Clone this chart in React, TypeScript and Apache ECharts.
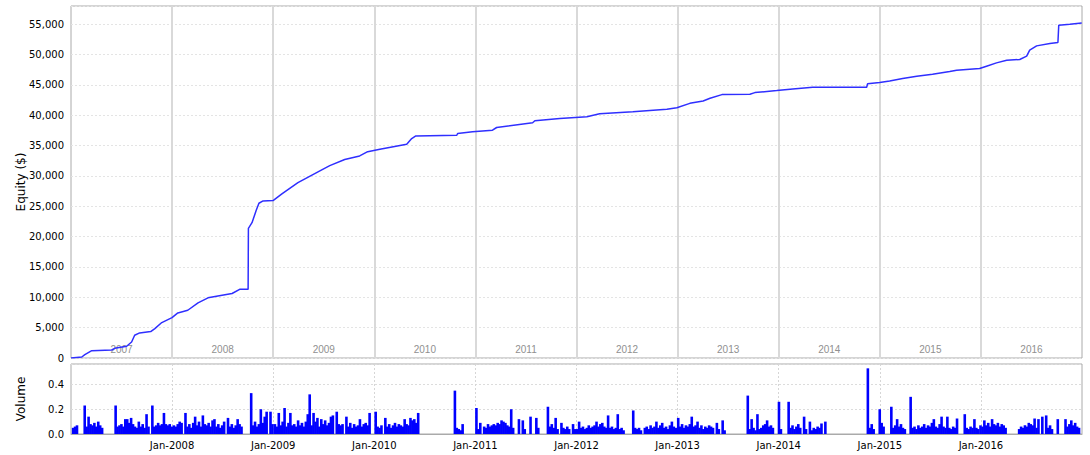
import React, { useEffect, useRef } from 'react';
import * as echarts from 'echarts';

const years = ['2007', '2008', '2009', '2010', '2011', '2012', '2013', '2014', '2015', '2016'];
const janLabels = ['Jan-2007', 'Jan-2008', 'Jan-2009', 'Jan-2010', 'Jan-2011', 'Jan-2012', 'Jan-2013', 'Jan-2014', 'Jan-2015', 'Jan-2016', 'Jan-2017'];

const equityDates = [
  '2007-01-01', '2007-02-09', '2007-02-20', '2007-03-17', '2007-05-28', '2007-06-08', '2007-07-21', '2007-08-08', '2007-08-19', '2007-09-06', '2007-10-16', '2007-10-31', '2007-11-25',
  '2008-01-01', '2008-01-22', '2008-02-27', '2008-04-04', '2008-05-10', '2008-06-30', '2008-08-05', '2008-09-03', '2008-10-02', '2008-10-03', '2008-10-16', '2008-10-31', '2008-11-10', '2008-11-25', '2008-12-31',
  '2009-02-01', '2009-03-31', '2009-06-25', '2009-07-24', '2009-09-16', '2009-11-09', '2009-12-08',
  '2010-01-21', '2010-04-28', '2010-05-16', '2010-05-31', '2010-10-26', '2010-10-29', '2010-12-22',
  '2011-03-04', '2011-03-19', '2011-07-27', '2011-08-04', '2011-11-02',
  '2012-02-08', '2012-03-25', '2012-07-23', '2012-11-23', '2012-12-29',
  '2013-02-14', '2013-04-03', '2013-04-28', '2013-06-10', '2013-09-19', '2013-10-07', '2013-12-25',
  '2014-02-21', '2014-05-04', '2014-11-15', '2014-11-18',
  '2015-01-01', '2015-02-06', '2015-03-25', '2015-05-15', '2015-07-11', '2015-09-11', '2015-10-06', '2015-12-28',
  '2016-01-22', '2016-02-27', '2016-04-04', '2016-05-21', '2016-06-15', '2016-06-26', '2016-07-21', '2016-09-07', '2016-10-06', '2016-10-09', '2016-11-18', '2016-12-31',
];
const equityValues = [
  0, 165, 550, 1200, 1320, 1600, 1930, 2640, 3750, 4130, 4350, 4850, 5840,
  6660, 7430, 7870, 9090, 9910, 10350, 10630, 11340, 11340, 21370, 22300, 24290, 25500, 25880, 25940,
  27040, 28900, 31000, 31700, 32700, 33300, 34000,
  34390, 35220, 36160, 36600, 36710, 36990, 37270,
  37540, 37980, 38760, 39090, 39475,
  39750, 40250, 40580, 40970, 41240,
  41960, 42350, 42790, 43400, 43450, 43730, 44060,
  44340, 44610, 44610, 45170,
  45390, 45660, 46050, 46440, 46770, 47210, 47430, 47700,
  48080, 48630, 49070, 49190, 49730, 50720, 51430, 51820, 51990, 54840, 55000, 55210,
];

// weekly volume, 52 weeks per year
const vol2007 = [0.05, 0.06, 0.07, 0, 0, 0, 0.23, 0.06, 0.14, 0.08, 0.07, 0.09, 0.06, 0.1, 0.07, 0.05, 0, 0, 0, 0, 0, 0, 0.23, 0.06, 0.07, 0.08, 0.06, 0.12, 0.12, 0.09, 0.13, 0.08, 0.06, 0.05, 0.1, 0.06, 0.08, 0.05, 0.16, 0.06, 0, 0.23, 0.06, 0.07, 0.09, 0.07, 0.08, 0.17, 0.08, 0.07, 0.08, 0.06];
const vol2008 = [0.07, 0.06, 0.08, 0.1, 0.09, 0, 0.17, 0.06, 0.08, 0.05, 0.09, 0.14, 0.07, 0.1, 0.06, 0.15, 0.08, 0.07, 0.09, 0.06, 0.11, 0.12, 0.06, 0.08, 0.05, 0.07, 0.1, 0, 0.13, 0.06, 0.08, 0.05, 0.07, 0.12, 0.08, 0.06, 0, 0, 0, 0, 0.33, 0.07, 0.1, 0.06, 0.08, 0.2, 0.09, 0.14, 0.18, 0, 0.18, 0.08];
const vol2009 = [0.08, 0.06, 0.17, 0.07, 0.1, 0.21, 0.06, 0.09, 0.17, 0.07, 0.08, 0.06, 0.11, 0.07, 0.09, 0.06, 0.1, 0.16, 0.32, 0.07, 0.17, 0.1, 0.13, 0.06, 0.12, 0.08, 0.11, 0.07, 0.09, 0.14, 0.15, 0, 0.18, 0.08, 0.07, 0.08, 0, 0.14, 0.06, 0.09, 0.05, 0.08, 0.06, 0.07, 0.12, 0.06, 0.08, 0.09, 0.07, 0.17, 0, 0];
const vol2010 = [0.18, 0.06, 0.05, 0.07, 0, 0.13, 0.06, 0.08, 0.05, 0.07, 0.09, 0.06, 0.08, 0.07, 0.06, 0.12, 0.08, 0.07, 0.13, 0.11, 0.12, 0.09, 0.17, 0, 0, 0, 0, 0, 0, 0, 0, 0, 0, 0, 0, 0, 0, 0, 0, 0, 0, 0.35, 0.05, 0.04, 0.03, 0.08, 0, 0, 0, 0, 0, 0];
const vol2011 = [0.21, 0.04, 0.09, 0, 0.06, 0.05, 0.08, 0.06, 0.07, 0.08, 0.07, 0.09, 0.08, 0.11, 0.1, 0.09, 0.07, 0.06, 0.2, 0.05, 0, 0, 0.12, 0, 0.11, 0.04, 0, 0, 0.14, 0, 0, 0.13, 0.05, 0, 0, 0, 0, 0.22, 0.06, 0.08, 0.05, 0.13, 0.04, 0, 0.09, 0.05, 0.04, 0.06, 0.04, 0, 0.08, 0.04];
const vol2012 = [0.04, 0.1, 0.05, 0.06, 0.04, 0.05, 0.07, 0.05, 0.06, 0.07, 0.1, 0.06, 0.08, 0.09, 0.06, 0.05, 0.15, 0.05, 0.06, 0.04, 0.05, 0.16, 0.04, 0.05, 0.03, 0, 0, 0, 0, 0.19, 0.05, 0.04, 0.05, 0.03, 0, 0.05, 0.06, 0.04, 0.07, 0.05, 0.06, 0.1, 0.05, 0.07, 0.09, 0.05, 0.06, 0.04, 0.07, 0.1, 0.06, 0.05];
const vol2013 = [0.13, 0.06, 0.08, 0.05, 0.07, 0.06, 0.08, 0.14, 0.06, 0.07, 0.1, 0.05, 0.07, 0.04, 0.06, 0.05, 0.07, 0.06, 0.05, 0, 0.09, 0.04, 0, 0.11, 0.03, 0, 0, 0, 0, 0, 0, 0, 0, 0, 0, 0, 0.31, 0.04, 0.12, 0.05, 0.03, 0.16, 0.04, 0.05, 0.07, 0.08, 0.11, 0.06, 0.07, 0.05, 0, 0];
const vol2014 = [0.26, 0.04, 0, 0, 0, 0.26, 0.05, 0.07, 0.04, 0.06, 0.08, 0.05, 0, 0.14, 0.04, 0, 0.1, 0.03, 0.05, 0.04, 0.06, 0.05, 0.085, 0, 0.1, 0, 0, 0, 0, 0, 0, 0, 0, 0, 0, 0, 0, 0, 0, 0, 0, 0, 0, 0, 0, 0, 0.53, 0.05, 0.08, 0.04, 0, 0];
const vol2015 = [0.2, 0.09, 0.06, 0, 0, 0, 0.22, 0.05, 0.07, 0.12, 0.06, 0.08, 0.05, 0.04, 0, 0, 0.3, 0.05, 0.06, 0.04, 0.07, 0.05, 0.06, 0.08, 0.05, 0.07, 0.06, 0.09, 0.12, 0.06, 0.05, 0.08, 0.14, 0.06, 0.05, 0.14, 0.05, 0.04, 0.06, 0.05, 0.125, 0, 0, 0, 0.16, 0.05, 0.04, 0.06, 0.05, 0.12, 0.05, 0.04];
const vol2016 = [0.07, 0.06, 0.11, 0.07, 0.09, 0.06, 0.12, 0.08, 0.07, 0.09, 0.06, 0.08, 0.07, 0.05, 0, 0, 0, 0, 0, 0, 0.04, 0.06, 0.05, 0.07, 0.06, 0.09, 0.08, 0.07, 0.125, 0.05, 0.12, 0, 0.14, 0, 0.15, 0.05, 0.07, 0.04, 0, 0, 0.12, 0, 0, 0, 0.12, 0.06, 0.08, 0.11, 0.07, 0.09, 0.06, 0.05];
const volumeByYear = [vol2007, vol2008, vol2009, vol2010, vol2011, vol2012, vol2013, vol2014, vol2015, vol2016];
const firstYear = 2007;

export default function App() {
  const ref = useRef<HTMLDivElement>(null);
  useEffect(() => {
    const chart = echarts.init(ref.current as HTMLDivElement, null, { renderer: 'svg' });
    const tMin = Date.UTC(2007, 0, 1);
    const tMax = Date.UTC(2017, 0, 1);
    const equity = equityDates.map((d, i) => [Date.parse(d + 'T00:00:00Z'), equityValues[i]]);
    const volume: any[] = [];
    volumeByYear.forEach((arr, yi) => {
      arr.forEach((v, wi) => {
        volume.push([Date.UTC(firstYear + yi, 0, 4 + 7 * wi), v]);
      });
    });
    const font = 'DejaVu Sans';
    chart.setOption({
      animation: false,
      useUTC: true,
      backgroundColor: '#ffffff',
      textStyle: { fontFamily: font },
      grid: [
        { left: 71, top: 6, width: 1011, height: 352, show: true, borderColor: '#aaaaaa', borderWidth: 1, backgroundColor: '#ffffff' },
        { left: 71, top: 364, width: 1011, height: 70, show: true, borderColor: '#aaaaaa', borderWidth: 1, backgroundColor: '#ffffff' },
      ],
      xAxis: [
        { type: 'time', gridIndex: 0, min: tMin, max: tMax, show: false, position: 'bottom' },
        {
          type: 'category', gridIndex: 0, data: years, boundaryGap: true, position: 'bottom',
          axisLine: { show: false }, axisTick: { show: false },
          axisLabel: { inside: true, interval: 0, color: '#909090', fontSize: 10, fontFamily: 'Liberation Sans', margin: 4 },
          splitLine: { show: true, interval: 0, showMinLine: false, showMaxLine: false, lineStyle: { color: '#d9d9d9', width: 2 } },
        },
        { type: 'time', gridIndex: 1, min: tMin, max: tMax, show: false, position: 'bottom' },
        {
          type: 'category', gridIndex: 1, data: janLabels, boundaryGap: false, position: 'bottom',
          axisLine: { show: true, lineStyle: { color: '#aaaaaa' } }, axisTick: { show: false },
          axisLabel: {
            interval: 0, color: '#000000', fontSize: 10, margin: 6,
            formatter: (v: string, i: number) => (i === 0 || i === janLabels.length - 1 ? '' : v),
          },
          splitLine: { show: true, interval: 0, showMinLine: false, showMaxLine: false, lineStyle: { color: '#d6d6d6', type: [2, 2] } },
        },
      ],
      yAxis: [
        {
          type: 'value', gridIndex: 0, min: 0, max: 58000, interval: 5000,
          axisLine: { show: false }, axisTick: { show: false },
          axisLabel: {
            color: '#000000', fontSize: 10, margin: 7,
            formatter: (v: number) => (v % 5000 === 0 ? v.toLocaleString('en-US') : ''),
          },
          splitLine: { show: true, lineStyle: { color: '#e4e4e4', type: [2, 2] } },
          name: 'Equity ($)', nameLocation: 'middle', nameGap: 44, nameMoveOverlap: false,
          nameTextStyle: { fontSize: 12, color: '#000000' },
        },
        {
          type: 'value', gridIndex: 1, min: 0, max: 0.565, interval: 0.2,
          axisLine: { show: false }, axisTick: { show: false },
          axisLabel: {
            color: '#000000', fontSize: 10, margin: 7,
            formatter: (v: number) => (v > 0.5 ? '' : v.toFixed(1)),
          },
          splitLine: { show: true, lineStyle: { color: '#dcdcdc', type: [2, 2] } },
          name: 'Volume', nameLocation: 'middle', nameGap: 44, nameMoveOverlap: false,
          nameTextStyle: { fontSize: 12, color: '#000000' },
        },
      ],
      series: [
        {
          type: 'line', xAxisIndex: 0, yAxisIndex: 0, data: equity,
          symbol: 'none', showSymbol: false, silent: true,
          lineStyle: { color: '#2f2fff', width: 1.5 },
        },
        {
          type: 'bar', xAxisIndex: 2, yAxisIndex: 1, data: volume,
          barWidth: 2.6, silent: true, large: false,
          itemStyle: { color: '#0000ff' },
        },
      ],
    });
    return () => chart.dispose();
  }, []);
  return <div ref={ref} style={{ position: 'absolute', left: 0, top: 0, width: 1090, height: 455 }} />;
}
